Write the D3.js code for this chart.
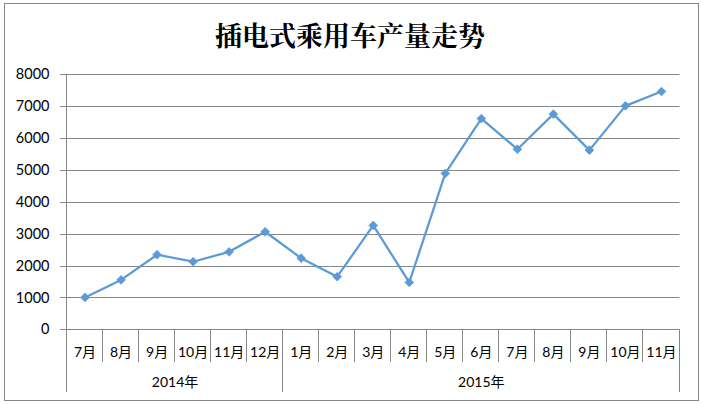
<!DOCTYPE html>
<html>
<head>
<meta charset="utf-8">
<script src="https://cdn.jsdelivr.net/npm/d3@7"></script>
<style>
  html, body { margin: 0; padding: 0; background: #fff; }
  svg { display: block; }
</style>
</head>
<body>
<div id="chart"></div>
<script>
  const title = "插电式乘用车产量走势";
  const years = ["2014年", "2015年"];
  const monthsByYear = [
    ["7月", "8月", "9月", "10月", "11月", "12月"],
    ["1月", "2月", "3月", "4月", "5月", "6月", "7月", "8月", "9月", "10月", "11月"]
  ];
  const production = [1000, 1550, 2340, 2120, 2430, 3060, 2230, 1650, 3260, 1470, 4890, 6610, 5650, 6750, 5620, 7010, 7460];
  const yTicks = [0, 1000, 2000, 3000, 4000, 5000, 6000, 7000, 8000];

  (function () {
    "use strict";

    const width = 703;
    const height = 404;
    const plot = { left: 67, right: 679.5, top: 74.3, bottom: 329.3 };
    const gridColor = "#868686";
    const lineColor = "#5b9bd5";
    const font = "Lato, 'Noto Sans CJK SC', sans-serif";

    // flatten categories into one index per month
    const cats = [];
    monthsByYear.forEach(function (months, yi) {
      months.forEach(function (m) { cats.push({ key: yi + "-" + m, label: m, year: yi }); });
    });
    const points = cats.map(function (c, i) { return { cat: c, value: production[i] }; });

    const svg = d3.select("#chart").append("svg").attr("width", width).attr("height", height);

    svg.append("rect")
      .attr("x", 4.5).attr("y", 3.5)
      .attr("width", 694).attr("height", 397)
      .attr("fill", "#fff")
      .attr("stroke", gridColor);

    svg.append("text")
      .attr("x", 350).attr("y", 34)
      .attr("text-anchor", "middle")
      .attr("dominant-baseline", "central")
      .attr("font-family", "'Noto Serif CJK SC', 'Noto Sans CJK SC', serif")
      .attr("font-size", 27)
      .attr("font-weight", "bold")
      .attr("fill", "#000")
      .text(title);

    const x = d3.scaleBand().domain(cats.map(function (c) { return c.key; })).range([plot.left, plot.right]).padding(0);
    const y = d3.scaleLinear().domain([0, 8000]).range([plot.bottom, plot.top]);

    // horizontal gridlines (with the small outside tick)
    svg.append("g")
      .selectAll("line")
      .data(yTicks)
      .enter()
      .append("line")
      .attr("x1", plot.left - 7)
      .attr("x2", plot.right)
      .attr("y1", function (d) { return Math.round(y(d)) + 0.5; })
      .attr("y2", function (d) { return Math.round(y(d)) + 0.5; })
      .attr("stroke", gridColor)
      .attr("stroke-width", 1);

    svg.append("g")
      .attr("transform", "translate(" + (plot.left - 0.5) + ",0)")
      .call(d3.axisLeft(y).tickValues(yTicks).tickFormat(d3.format("d")).tickSize(0).tickPadding(17))
      .call(function (g) {
        g.select(".domain").attr("stroke", gridColor).attr("d", "M0," + y(8000) + "V" + y(0));
        g.selectAll("text").attr("fill", "#000").attr("font-size", 14.5).attr("font-family", font);
      });

    // category boundaries
    const bounds = cats.map(function (c) { return x(c.key); }).concat([plot.right]);
    const groupEdges = [0];
    monthsByYear.forEach(function (m, i) { groupEdges.push(groupEdges[i] + m.length); });

    svg.append("g")
      .selectAll("line")
      .data(bounds)
      .enter()
      .append("line")
      .attr("x1", function (d) { return Math.round(d) - 0.5; })
      .attr("x2", function (d) { return Math.round(d) - 0.5; })
      .attr("y1", plot.bottom)
      .attr("y2", function (_, i) { return groupEdges.indexOf(i) >= 0 ? 392 : 362; })
      .attr("stroke", gridColor);

    svg.append("g")
      .attr("transform", "translate(0,352)")
      .call(d3.axisBottom(x).tickSize(0).tickPadding(0).tickFormat(function (k) {
        return cats.find(function (c) { return c.key === k; }).label;
      }))
      .call(function (g) {
        g.select(".domain").remove();
        g.selectAll("text")
          .attr("dy", "0.35em")
          .attr("y", 0)
          .attr("fill", "#000")
          .attr("font-size", 14)
          .attr("font-family", font);
      });

    svg.append("g")
      .selectAll("text")
      .data(years)
      .enter()
      .append("text")
      .attr("x", function (_, i) { return (bounds[groupEdges[i]] + bounds[groupEdges[i + 1]]) / 2; })
      .attr("y", 382)
      .attr("dy", "0.35em")
      .attr("text-anchor", "middle")
      .attr("fill", "#000")
      .attr("font-size", 14)
      .attr("font-family", font)
      .text(function (d) { return d; });

    const cx = function (d) { return x(d.cat.key) + x.bandwidth() / 2; };

    svg.append("path")
      .datum(points)
      .attr("fill", "none")
      .attr("stroke", lineColor)
      .attr("stroke-width", 2.25)
      .attr("stroke-linejoin", "round")
      .attr("d", d3.line().x(cx).y(function (d) { return y(d.value); }));

    // Excel-style diamond: a square turned 45 degrees
    svg.append("g")
      .selectAll("path")
      .data(points)
      .enter()
      .append("path")
      .attr("transform", function (d) { return "translate(" + cx(d) + "," + y(d.value) + ") rotate(45)"; })
      .attr("d", d3.symbol().type(d3.symbolSquare).size(38))
      .attr("fill", lineColor)
      .attr("stroke", lineColor)
      .attr("stroke-width", 0.75);
  })();
</script>
</body>
</html>
